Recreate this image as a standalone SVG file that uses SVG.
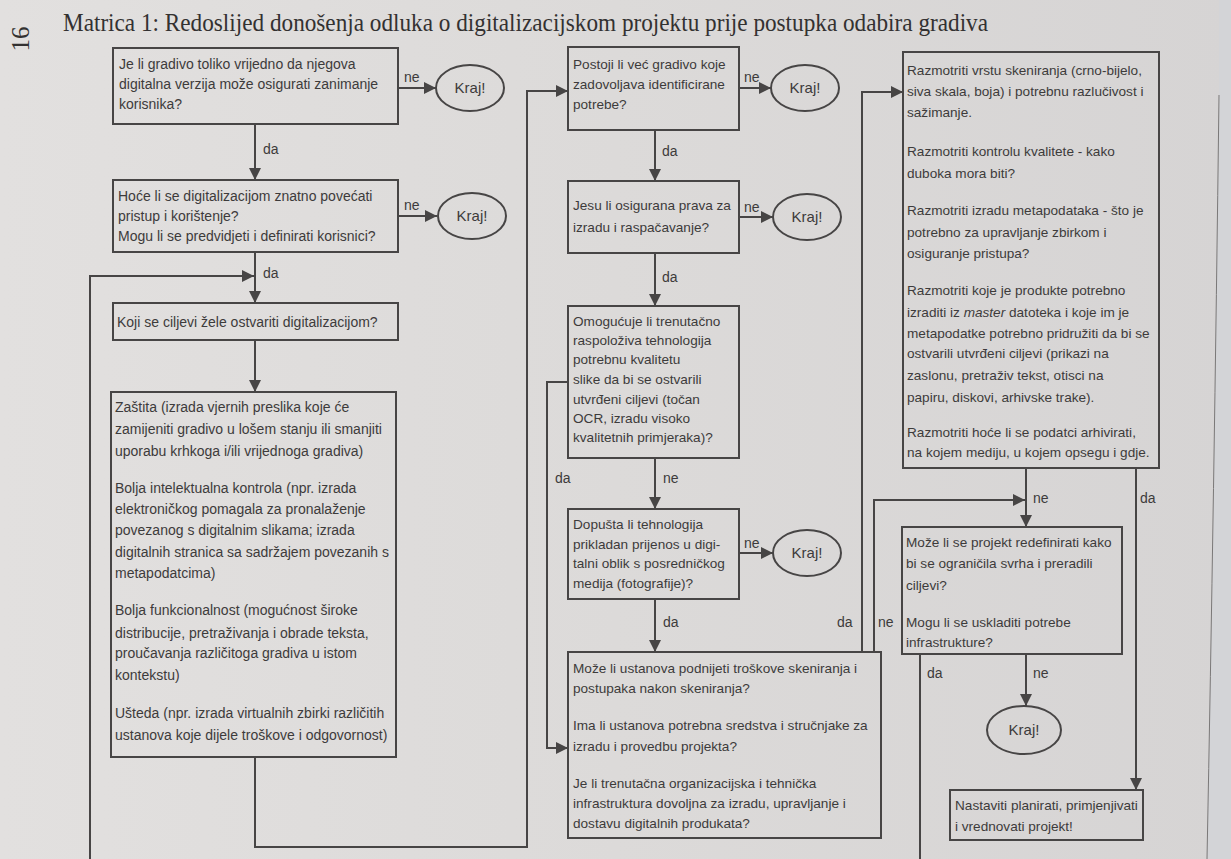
<svg xmlns="http://www.w3.org/2000/svg" width="1231" height="859" viewBox="0 0 1231 859">
  <defs>
    <linearGradient id="paper" x1="0" y1="0" x2="1" y2="0">
      <stop offset="0" stop-color="#e2e0df"/>
      <stop offset="0.5" stop-color="#dcdad9"/>
      <stop offset="1" stop-color="#d6d4d4"/>
    </linearGradient>
    <marker id="ah" viewBox="0 0 12 12" markerWidth="12" markerHeight="12" refX="12" refY="6" orient="auto" markerUnits="userSpaceOnUse">
      <path d="M0,0 L12,6 L0,12 z" fill="#474545"/>
    </marker>
    <style>
      .box { fill: none; stroke: #474545; stroke-width: 2; }
      .end { fill: none; stroke: #474545; stroke-width: 2; }
      .con { fill: none; stroke: #474545; stroke-width: 2; marker-end: url(#ah); }
      .line { fill: none; stroke: #474545; stroke-width: 2; }
      text { font-family: "Liberation Sans", Arial, sans-serif; fill: #3d3b3b; }
      .t { font-size: 14px; }
      .s { font-size: 13.6px; }
      .lbl { font-size: 14px; }
      .kraj { font-size: 15px; text-anchor: middle; }
      .title { font-family: "Liberation Serif", "Times New Roman", serif; font-size: 25px; fill: #333131; }
    </style>
  </defs>

  <!-- page background -->
  <rect x="0" y="0" width="1231" height="859" fill="url(#paper)"/>
  <path d="M1219,0 L1219,120 Q1214,500 1207,859 L1231,859 L1231,0 z" fill="#d3d4d7"/>
  <path d="M1219,95 Q1214,500 1207,859" fill="none" stroke="#7a7878" stroke-width="1"/>

  <!-- page number and heading -->
  <text class="title" transform="translate(29,39) rotate(-90)" text-anchor="middle" font-size="24">16</text>
  <text class="title" x="63" y="31" textLength="925" lengthAdjust="spacingAndGlyphs">Matrica 1: Redoslijed donošenja odluka o digitalizacijskom projektu prije postupka odabira gradiva</text>

  <!-- connectors -->
  <g id="connectors">
    <path class="con" d="M398,88 H436"/>
    <path class="con" d="M255,124 V180"/>
    <path class="con" d="M398,216 H437"/>
    <path class="con" d="M255,252 V303"/>
    <path class="con" d="M90,859 V276 H254"/>
    <path class="con" d="M255,340 V392"/>
    <path class="con" d="M255,757 V847 H527 V91 H568"/>
    <path class="con" d="M739,88 H771"/>
    <path class="con" d="M655,130 V181"/>
    <path class="con" d="M739,217 H773"/>
    <path class="con" d="M655,253 V306"/>
    <path class="con" d="M568,382 H547 V748 H568"/>
    <path class="con" d="M655,458 V509"/>
    <path class="con" d="M739,553 H773"/>
    <path class="con" d="M655,599 V652"/>
    <path class="con" d="M862,652 V92 H903"/>
    <path class="con" d="M874,652 V500 H1025"/>
    <path class="con" d="M1026,468 V527"/>
    <path class="con" d="M1136,468 V790"/>
    <path class="line" d="M920,654 V859"/>
    <path class="con" d="M1026,654 V706"/>

    <text class="lbl" x="404" y="82">ne</text>
    <text class="lbl" x="263" y="154">da</text>
    <text class="lbl" x="404" y="210">ne</text>
    <text class="lbl" x="263" y="278">da</text>
    <text class="lbl" x="744" y="82">ne</text>
    <text class="lbl" x="662" y="156">da</text>
    <text class="lbl" x="744" y="212">ne</text>
    <text class="lbl" x="662" y="282">da</text>
    <text class="lbl" x="555" y="483">da</text>
    <text class="lbl" x="663" y="483">ne</text>
    <text class="lbl" x="744" y="548">ne</text>
    <text class="lbl" x="663" y="627">da</text>
    <text class="lbl" x="837" y="627">da</text>
    <text class="lbl" x="878" y="627">ne</text>
    <text class="lbl" x="1033" y="503">ne</text>
    <text class="lbl" x="1140" y="503">da</text>
    <text class="lbl" x="927" y="678">da</text>
    <text class="lbl" x="1033" y="678">ne</text>
  </g>

  <!-- column 1 -->
  <g id="q-vrijednost">
    <rect class="box" x="113" y="48" width="285" height="76"/>
    <text class="t" x="119" y="69">Je li gradivo toliko vrijedno da njegova</text>
    <text class="t" x="119" y="89">digitalna verzija može osigurati zanimanje</text>
    <text class="t" x="119" y="109">korisnika?</text>
  </g>
  <g id="kraj-1">
    <ellipse class="end" cx="470" cy="88" rx="34" ry="23"/>
    <text class="kraj" x="470" y="93">Kraj!</text>
  </g>
  <g id="q-pristup">
    <rect class="box" x="113" y="180" width="285" height="72"/>
    <text class="t" x="118" y="201">Hoće li se digitalizacijom znatno povećati</text>
    <text class="t" x="118" y="221">pristup i korištenje?</text>
    <text class="t" x="118" y="241">Mogu li se predvidjeti i definirati korisnici?</text>
  </g>
  <g id="kraj-2">
    <ellipse class="end" cx="472" cy="216" rx="34" ry="23"/>
    <text class="kraj" x="472" y="221">Kraj!</text>
  </g>
  <g id="q-ciljevi">
    <rect class="box" x="113" y="303" width="285" height="37"/>
    <text class="t" x="117" y="327">Koji se ciljevi žele ostvariti digitalizacijom?</text>
  </g>
  <g id="ciljevi">
    <rect class="box" x="111" y="392" width="285" height="365"/>
    <text class="t" x="115" y="412">Zaštita (izrada vjernih preslika koje će</text>
    <text class="t" x="115" y="434">zamijeniti gradivo u lošem stanju ili smanjiti</text>
    <text class="t" x="115" y="456">uporabu krhkoga i/ili vrijednoga gradiva)</text>
    <text class="t" x="115" y="493">Bolja intelektualna kontrola (npr. izrada</text>
    <text class="t" x="115" y="514">elektroničkog pomagala za pronalaženje</text>
    <text class="t" x="115" y="535">povezanog s digitalnim slikama; izrada</text>
    <text class="t" x="115" y="557">digitalnih stranica sa sadržajem povezanih s</text>
    <text class="t" x="115" y="578">metapodatcima)</text>
    <text class="t" x="115" y="615">Bolja funkcionalnost (mogućnost široke</text>
    <text class="t" x="115" y="638">distribucije, pretraživanja i obrade teksta,</text>
    <text class="t" x="115" y="658">proučavanja različitoga gradiva u istom</text>
    <text class="t" x="115" y="680">kontekstu)</text>
    <text class="t" x="115" y="718">Ušteda (npr. izrada virtualnih zbirki različitih</text>
    <text class="t" x="115" y="740">ustanova koje dijele troškove i odgovornost)</text>
  </g>

  <!-- column 2 -->
  <g id="q-postoji">
    <rect class="box" x="568" y="47" width="171" height="83"/>
    <text class="s" x="573" y="69">Postoji li već gradivo koje</text>
    <text class="s" x="573" y="89">zadovoljava identificirane</text>
    <text class="s" x="573" y="109">potrebe?</text>
  </g>
  <g id="kraj-3">
    <ellipse class="end" cx="805" cy="88" rx="34" ry="23"/>
    <text class="kraj" x="805" y="93">Kraj!</text>
  </g>
  <g id="q-prava">
    <rect class="box" x="568" y="181" width="171" height="72"/>
    <text class="s" x="573" y="210">Jesu li osigurana prava za</text>
    <text class="s" x="573" y="232">izradu i raspačavanje?</text>
  </g>
  <g id="kraj-4">
    <ellipse class="end" cx="807" cy="217" rx="34" ry="23"/>
    <text class="kraj" x="807" y="222">Kraj!</text>
  </g>
  <g id="q-tehnologija">
    <rect class="box" x="568" y="306" width="171" height="152"/>
    <text class="s" x="573" y="326">Omogućuje li trenutačno</text>
    <text class="s" x="573" y="345">raspoloživa tehnologija</text>
    <text class="s" x="573" y="364">potrebnu kvalitetu</text>
    <text class="s" x="573" y="384">slike da bi se ostvarili</text>
    <text class="s" x="573" y="404">utvrđeni ciljevi (točan</text>
    <text class="s" x="573" y="423">OCR, izradu visoko</text>
    <text class="s" x="573" y="442">kvalitetnih primjeraka)?</text>
  </g>
  <g id="q-prijenos">
    <rect class="box" x="568" y="509" width="171" height="90"/>
    <text class="s" x="573" y="529">Dopušta li tehnologija</text>
    <text class="s" x="573" y="549">prikladan prijenos u digi-</text>
    <text class="s" x="573" y="568">talni oblik s posredničkog</text>
    <text class="s" x="573" y="588">medija (fotografije)?</text>
  </g>
  <g id="kraj-5">
    <ellipse class="end" cx="807" cy="553" rx="34" ry="23"/>
    <text class="kraj" x="807" y="558">Kraj!</text>
  </g>
  <g id="q-ustanova">
    <rect class="box" x="568" y="652" width="313" height="186"/>
    <text class="s" x="573" y="673">Može li ustanova podnijeti troškove skeniranja i</text>
    <text class="s" x="573" y="693">postupaka nakon skeniranja?</text>
    <text class="s" x="573" y="730">Ima li ustanova potrebna sredstva i stručnjake za</text>
    <text class="s" x="573" y="751">izradu i provedbu projekta?</text>
    <text class="s" x="573" y="788">Je li trenutačna organizacijska i tehnička</text>
    <text class="s" x="573" y="808">infrastruktura dovoljna za izradu, upravljanje i</text>
    <text class="s" x="573" y="828">dostavu digitalnih produkata?</text>
  </g>

  <!-- column 3 -->
  <g id="razmotriti">
    <rect class="box" x="903" y="52" width="256" height="416"/>
    <text class="s" x="907" y="75">Razmotriti vrstu skeniranja (crno-bijelo,</text>
    <text class="s" x="907" y="96">siva skala, boja) i potrebnu razlučivost i</text>
    <text class="s" x="907" y="117">sažimanje.</text>
    <text class="s" x="907" y="156">Razmotriti kontrolu kvalitete - kako</text>
    <text class="s" x="907" y="178">duboka mora biti?</text>
    <text class="s" x="907" y="215">Razmotriti izradu metapodataka - što je</text>
    <text class="s" x="907" y="237">potrebno za upravljanje zbirkom i</text>
    <text class="s" x="907" y="258">osiguranje pristupa?</text>
    <text class="s" x="907" y="295">Razmotriti koje je produkte potrebno</text>
    <text class="s" x="907" y="317">izraditi iz <tspan font-style="italic">master</tspan> datoteka i koje im je</text>
    <text class="s" x="907" y="338">metapodatke potrebno pridružiti da bi se</text>
    <text class="s" x="907" y="358">ostvarili utvrđeni ciljevi (prikazi na</text>
    <text class="s" x="907" y="380">zaslonu, pretraživ tekst, otisci na</text>
    <text class="s" x="907" y="402">papiru, diskovi, arhivske trake).</text>
    <text class="s" x="907" y="437">Razmotriti hoće li se podatci arhivirati,</text>
    <text class="s" x="907" y="457">na kojem mediju, u kojem opsegu i gdje.</text>
  </g>
  <g id="q-redefinirati">
    <rect class="box" x="902" y="527" width="220" height="127"/>
    <text class="s" x="906" y="547">Može li se projekt redefinirati kako</text>
    <text class="s" x="906" y="568">bi se ograničila svrha i preradili</text>
    <text class="s" x="906" y="590">ciljevi?</text>
    <text class="s" x="906" y="627">Mogu li se uskladiti potrebe</text>
    <text class="s" x="906" y="647">infrastrukture?</text>
  </g>
  <g id="kraj-6">
    <ellipse class="end" cx="1024" cy="730" rx="37" ry="24"/>
    <text class="kraj" x="1024" y="735">Kraj!</text>
  </g>
  <g id="nastaviti">
    <rect class="box" x="950" y="790" width="193" height="50"/>
    <text class="s" x="955" y="810">Nastaviti planirati, primjenjivati</text>
    <text class="s" x="955" y="831">i vrednovati projekt!</text>
  </g>
</svg>
